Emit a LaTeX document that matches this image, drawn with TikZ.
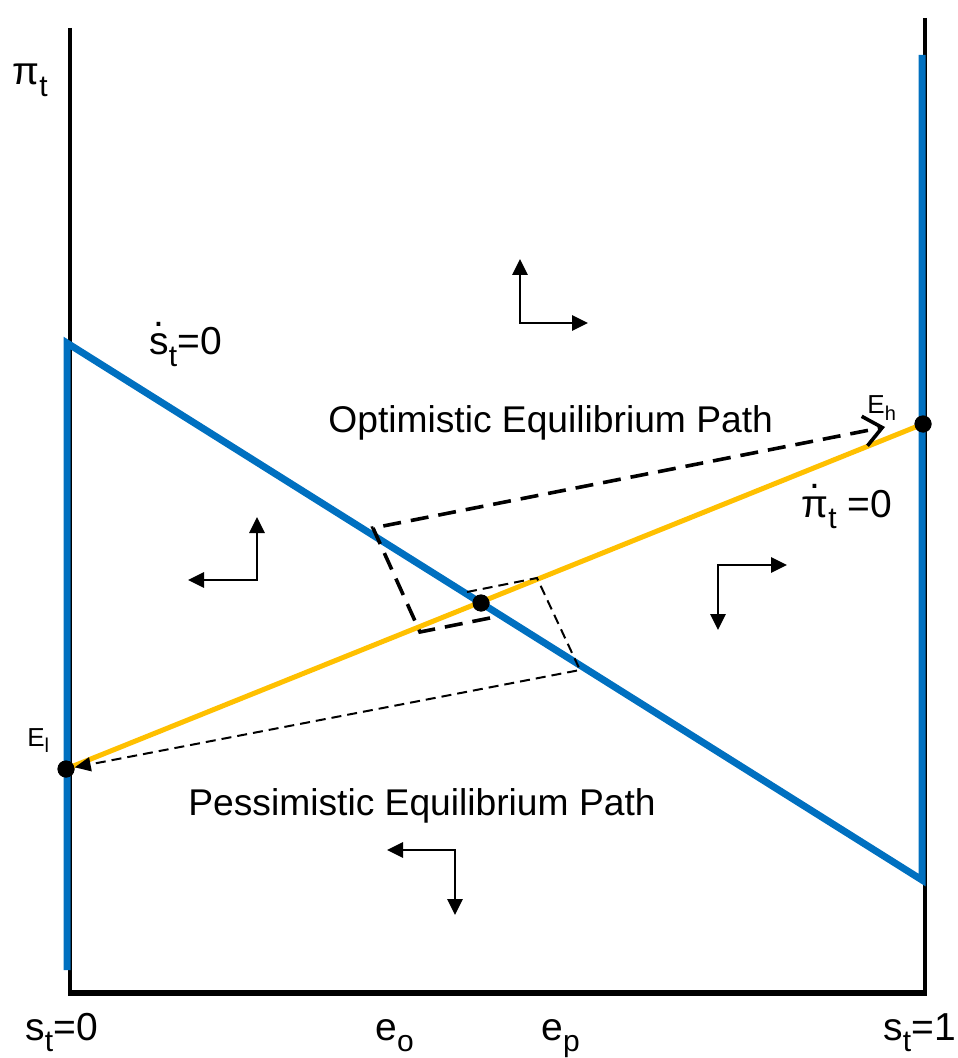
\documentclass[tikz,border=0pt]{standalone}
\usepackage{fontspec}
\setmainfont{Liberation Sans}
\usepackage{xcolor}
\usepackage{tikz}
\usetikzlibrary{arrows.meta}
\definecolor{curveblue}{RGB}{0,112,192}
\definecolor{curveyellow}{RGB}{255,192,0}
\newcommand\sbs[1]{\raisebox{-0.3em}{\fontsize{15}{15}\selectfont #1}}
\newcommand\esbs[1]{\raisebox{-0.25em}{\fontsize{10}{10}\selectfont #1}}
\newcommand\dotover[1]{{\ooalign{#1\cr\hfil\raisebox{0.72em}{.}\hfil\cr}}}
\tikzset{
  axis/.style     = {draw=black, line width=1.6pt},
  sline/.style    = {draw=curveblue, line width=3.5pt},
  pline/.style    = {draw=curveyellow, line width=2.5pt},
  optpath/.style  = {line width=1.8pt, dash pattern=on 9pt off 5pt, -{Straight Barb[length=9pt,width=15pt,line width=1.8pt]}},
  pesspath/.style = {line width=1pt, dash pattern=on 5pt off 3pt, -{Triangle[length=8pt,width=7pt]}},
  dirarrow/.style = {line width=1.4pt, {Triangle[length=8pt,width=7.5pt]}-{Triangle[length=8pt,width=7.5pt]}},
  eqdot/.style    = {circle, fill=black, inner sep=0pt, minimum size=8.5pt},
  lbl/.style      = {font=\fontsize{19.5}{22}\selectfont, inner sep=0pt, anchor=base west},
  plbl/.style     = {font=\fontsize{18.6}{22}\selectfont, inner sep=0pt, anchor=base west},
  elbl/.style     = {font=\fontsize{13}{15}\selectfont, inner sep=0pt, anchor=base west},
}
\begin{document}
\begin{tikzpicture}[x=0.5pt, y=-0.5pt]
  \useasboundingbox (0,0) rectangle (957,1058);
  % axes
  \coordinate (ltop) at (70,28);
  \coordinate (rtop) at (925,18);
  \coordinate (lbot) at (70,993);
  \coordinate (rbot) at (925,993);
  \draw[axis] (ltop) -- (lbot);
  \draw[axis] (rtop) -- (rbot);
  \draw[axis, line width=2.6pt] (68,993) -- (927,993);
  % s-dot = 0 locus and pi-dot = 0 locus
  \coordinate (sa) at (67,970);
  \coordinate (sb) at (67,343);
  \coordinate (sc) at (922,880);
  \coordinate (sd) at (922,55);
  \draw[sline] (sa) -- (sb) -- (sc) -- (sd);
  \node[eqdot] (El) at (66,769) {};
  \node[eqdot] (Eh) at (923,424) {};
  \node[eqdot] (Em) at (481,603) {};
  \draw[pline] (El.center) -- (Eh.center);
  % equilibrium paths
  \coordinate (o1) at (490,618);
  \coordinate (o2) at (420,632);
  \coordinate (o3) at (373,528);
  \coordinate (otip) at (885,427);
  \draw[optpath] (o1) -- (o2) -- (o3) -- (otip);
  \coordinate (p1) at (467,592);
  \coordinate (p2) at (537,578);
  \coordinate (p3) at (580,670);
  \draw[pesspath] (p1) -- (p2) -- (p3) -- (El);
  \node[eqdot] at (El.center) {};
  \node[eqdot] at (Eh.center) {};
  \node[eqdot] at (Em.center) {};
  % direction arrows
  \foreach \ax/\ay/\bx/\by in {520/259/588/323, 257/517/188/580, 718/630/787/565, 455/915/387/850}
    \draw[dirarrow] (\ax,\ay) |- (\bx,\by);
  % labels
  \node[lbl] (pilbl) at (12,85) {π\sbs{t}};
  \node[lbl] (sdot) at (149,355) {\dotover{s}\sbs{t}=0};
  \node[lbl] (pidot) at (801,517) {\dotover{π}\sbs{t} =0};
  \node[plbl] (optlbl) at (328,432) {Optimistic Equilibrium Path};
  \node[plbl] (pesslbl) at (188,815) {Pessimistic Equilibrium Path};
  \node[elbl] (Ehlbl) at (867,414) {E\esbs{h}};
  \node[elbl] (Ellbl) at (27,746) {E\esbs{l}};
  \node[lbl] (s0) at (25,1040) {s\sbs{t}=0};
  \node[lbl] (eo) at (375,1040) {e\sbs{o}};
  \node[lbl] (ep) at (541,1040) {e\sbs{p}};
  \node[lbl] (s1) at (883,1040) {s\sbs{t}=1};
\end{tikzpicture}
\end{document}
